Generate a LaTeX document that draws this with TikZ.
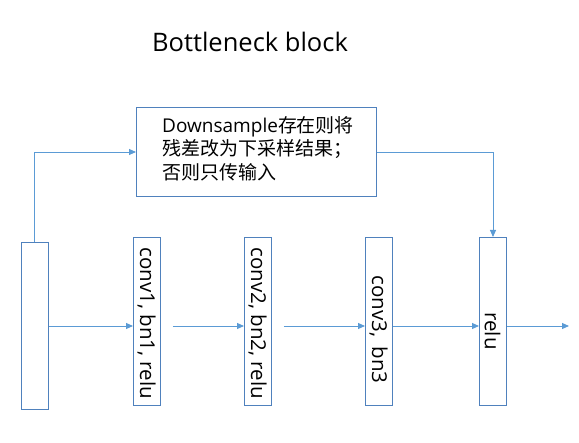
\documentclass[tikz,border=0pt]{standalone}
\usepackage{fontspec}
\setmainfont{Open Sans}
\newfontfamily\cjk{Noto Sans CJK SC}
\usetikzlibrary{arrows.meta}
\definecolor{lineblue}{HTML}{5B9BD5}
\definecolor{boxblue}{HTML}{4F81BD}
\begin{document}
\begin{tikzpicture}[x=1pt,y=-1pt,
  blk/.style={draw=boxblue,line width=0.9pt,minimum width=27pt,minimum height=168pt,inner sep=0pt},
  conn/.style={draw=lineblue,line width=0.9pt,-{Triangle[length=7pt,width=6pt]}},
  vtext/.style={rotate=-90,font=\fontsize{20.5}{24}\selectfont}]
\useasboundingbox (0,0) rectangle (579,443);
\node[font=\fontsize{25.5}{30}\selectfont,anchor=center] (title) at (250,42) {Bottleneck block};
\node[draw=boxblue,line width=0.9pt,minimum width=240pt,minimum height=89pt,anchor=north west,inner sep=0pt] (ds) at (136,107) {};
\node[anchor=north west,align=left,font=\fontsize{19}{23.5}\selectfont,inner sep=0pt] (dstext) at (162,116) {Downsample{\cjk 存在则将}\\{\cjk 残差改为下采样结果；}\\{\cjk 否则只传输入}};
\node[blk,minimum height=167pt,anchor=north west] (in) at (21,242) {};
\node[blk,anchor=north west] (c1) at (133,237) {};
\node[blk,anchor=north west] (c2) at (244,237) {};
\node[blk,anchor=north west] (c3) at (365,237) {};
\node[blk,anchor=north west] (r) at (479,237) {};
\node[vtext,anchor=west] (t1) at (146.5,244) {conv1, bn1, relu};
\node[vtext,anchor=west] (t2) at (257.5,244) {conv2, bn2, relu};
\node[vtext,anchor=west] (t3) at (378.5,272) {conv3,\hspace{4pt} bn3};
\node[vtext,anchor=west] (t4) at (492.5,309) {relu};
\coordinate (out) at (569,326);
\coordinate (up) at (34,152);
\coordinate (dn) at (493,152);
\draw[conn] (in.east |- 0,326) -- (c1.west |- 0,326);
\draw[conn] (c1.east |- 0,326) ++(12,0) -- (c2.west |- 0,326);
\draw[conn] (c2.east |- 0,326) ++(12,0) -- (c3.west |- 0,326);
\draw[conn] (c3.east |- 0,326) -- (r.west |- 0,326);
\draw[conn] (r.east |- 0,326) -- (out);
\draw[conn] (in.north -| up) -- (up) -- (ds.west |- up);
\draw[conn] (ds.east |- dn) -- (dn) -- (r.north -| dn);
\end{tikzpicture}
\end{document}
